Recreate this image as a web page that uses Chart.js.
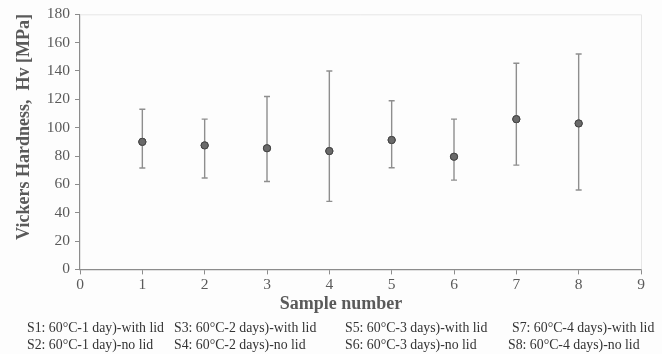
<!DOCTYPE html>
<html>
<head>
<meta charset="utf-8">
<script src="https://cdn.jsdelivr.net/npm/chart.js@4.4.0/dist/chart.umd.min.js"></script>
<style>
html,body{margin:0;padding:0;background:#fdfdfd;}
#wrap{position:relative;width:662px;height:354px;}
</style>
</head>
<body>
<div id="wrap"><canvas id="c" width="662" height="354"></canvas></div>
<script>
const samples = [1, 2, 3, 4, 5, 6, 7, 8];
const meanHv = [90, 87.5, 85.5, 83.5, 91.3, 79.5, 106, 103];
const upperHv = [113, 106, 122, 140, 119, 106, 145.5, 152];
const lowerHv = [71.6, 64.5, 62, 48, 71.7, 63, 73.6, 56];
const xTicks = [0, 1, 2, 3, 4, 5, 6, 7, 8, 9];
const yTicks = [0, 20, 40, 60, 80, 100, 120, 140, 160, 180];
const captionRow1 = ["S1: 60\u00b0C-1 day)-with lid", "S3: 60\u00b0C-2 days)-with lid", "S5: 60\u00b0C-3 days)-with lid", "S7: 60\u00b0C-4 days)-with lid"];
const captionRow2 = ["S2: 60\u00b0C-1 day)-no lid", "S4: 60\u00b0C-2 days)-no lid", "S6: 60\u00b0C-3 days)-no lid", "S8: 60\u00b0C-4 days)-no lid"];
const xTitle = "Sample number";
const yTitle = "Vickers Hardness,  Hv [MPa]";

const serif = "'Liberation Serif', 'DejaVu Serif', serif";
const textGray = '#5a5a5a';
const axisGray = '#8c8c8c';

const errorBars = {
  id: 'errorBars',
  afterDatasetsDraw(chart) {
    const ctx = chart.ctx, xs = chart.scales.x, ys = chart.scales.y;
    ctx.save();
    ctx.strokeStyle = '#8e8e8e';
    ctx.lineWidth = 1.4;
    samples.forEach((s, i) => {
      const x = xs.getPixelForValue(s);
      const yt = ys.getPixelForValue(upperHv[i]);
      const yb = ys.getPixelForValue(lowerHv[i]);
      ctx.beginPath();
      ctx.moveTo(x, yt); ctx.lineTo(x, yb);
      ctx.moveTo(x - 3, yt); ctx.lineTo(x + 3, yt);
      ctx.moveTo(x - 3, yb); ctx.lineTo(x + 3, yb);
      ctx.stroke();
    });
    ctx.restore();
    const meta = chart.getDatasetMeta(0);
    meta.data.forEach(p => p.draw(ctx, chart.chartArea));
  }
};

const extras = {
  id: 'extras',
  beforeDatasetsDraw(chart) {
    const ctx = chart.ctx, a = chart.chartArea;
    ctx.save();
    ctx.strokeStyle = '#e6e6e6';
    ctx.lineWidth = 1;
    ctx.beginPath();
    ctx.moveTo(a.left, a.top + 0.5); ctx.lineTo(a.right + 0.5, a.top + 0.5); ctx.lineTo(a.right + 0.5, a.bottom);
    ctx.stroke();
    ctx.restore();
  },
  afterDraw(chart) {
    const ctx = chart.ctx;
    ctx.save();
    ctx.fillStyle = textGray;
    ctx.font = "bold 18px " + serif;
    ctx.textAlign = 'center';
    ctx.textBaseline = 'middle';
    ctx.fillText(xTitle, 341, 304);
    ctx.save();
    ctx.translate(24, 127);
    ctx.rotate(-Math.PI / 2);
    ctx.font = "bold 18px " + serif;
    ctx.fillText(yTitle, 0, 0);
    ctx.restore();
    ctx.fillStyle = '#333';
    ctx.font = "13.8px " + serif;
    ctx.textAlign = 'left';
    const cols1 = [27, 174, 345, 512];
    const cols2 = [27, 174, 345, 508];
    captionRow1.forEach((t, i) => ctx.fillText(t, cols1[i], 328));
    captionRow2.forEach((t, i) => ctx.fillText(t, cols2[i], 345));
    ctx.restore();
  }
};

new Chart(document.getElementById('c'), {
  type: 'scatter',
  data: {
    datasets: [{
      data: samples.map((s, i) => ({ x: s, y: meanHv[i] })),
      pointRadius: 3.6,
      pointBackgroundColor: '#6a6a6a',
      pointBorderColor: '#444',
      pointBorderWidth: 1
    }]
  },
  options: {
    responsive: false,
    animation: false,
    events: [],
    layout: { padding: { left: 0, right: 21, top: 10, bottom: 59 } },
    plugins: { legend: { display: false }, tooltip: { enabled: false } },
    scales: {
      x: {
        type: 'linear', min: 0, max: 9,
        afterBuildTicks: s => { s.ticks = xTicks.map(v => ({ value: v })); },
        grid: { drawOnChartArea: false, color: axisGray, tickLength: 5, tickColor: axisGray },
        border: { color: axisGray, width: 1.2 },
        ticks: { color: textGray, font: { family: serif, size: 15.5 }, padding: 1, maxRotation: 0 }
      },
      y: {
        min: 0, max: 180,
        afterBuildTicks: s => { s.ticks = yTicks.map(v => ({ value: v })); },
        afterFit: s => { s.width = 80; },
        grid: { drawOnChartArea: false, color: axisGray, tickLength: 5, tickColor: axisGray },
        border: { color: axisGray, width: 1.2 },
        ticks: { color: textGray, font: { family: serif, size: 15.5 }, padding: 5 }
      }
    }
  },
  plugins: [extras, errorBars]
});
</script>
</body>
</html>
